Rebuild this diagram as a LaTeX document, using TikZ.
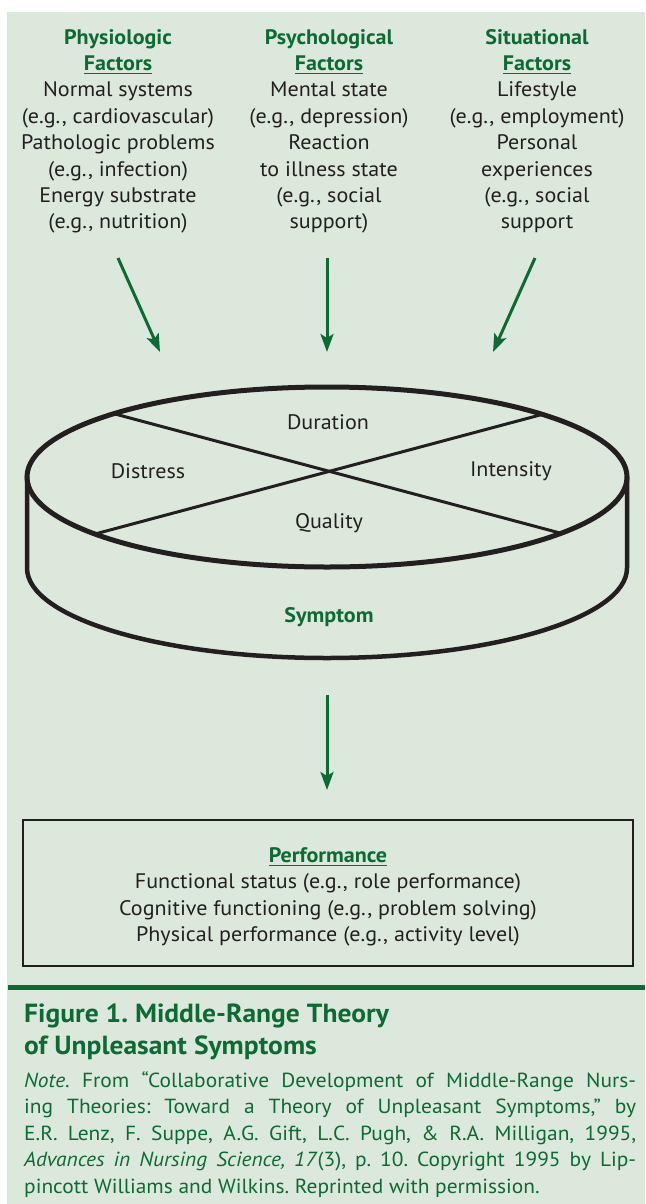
\documentclass[tikz,border=0pt]{standalone}
\usepackage{fontspec}
\setmainfont[FakeStretch=1.05]{PT Sans}
\usetikzlibrary{arrows.meta}
\definecolor{bg}{HTML}{DDE8DC}
\definecolor{dg}{HTML}{0B6B32}
\definecolor{ink}{HTML}{231F20}
\newcommand\myul[1]{\setbox0\hbox{#1}\rlap{\color{dg}\rule[-3.5pt]{\wd0}{1.4pt}}\box0}
\newcommand\hdr[1]{\textcolor{dg}{\bfseries #1}}
\frenchspacing
\begin{document}
\begin{tikzpicture}[x=1pt,y=-1pt,
  coltxt/.style={font=\fontsize{21}{26.4}\selectfont, text=ink, align=center, inner sep=0pt, anchor=north},
  lbl/.style={font=\fontsize{21}{24}\selectfont, text=ink, inner sep=0pt},
  garrow/.style={draw=dg, line width=3pt, -{Stealth[length=18pt,width=13pt,inset=4pt]}},
  inkline/.style={draw=ink, line cap=round},
]
\useasboundingbox (0,0) rectangle (645,1204);
\fill[bg] (7,12) rectangle (645,1204);

% factor columns
\node[coltxt] (physio) at (118,29) {\hdr{Physiologic}\\ \hdr{\myul{Factors}}\\ Normal systems\\ (e.g., cardiovascular)\\ Pathologic problems\\ (e.g., infection)\\ Energy substrate\\ (e.g., nutrition)};
\node[coltxt] (psych) at (329,29) {\hdr{Psychological}\\ \hdr{\myul{Factors}}\\ Mental state\\ (e.g., depression)\\ Reaction\\ to illness state\\ (e.g., social\\ support)};
\node[coltxt] (situ) at (537,29) {\hdr{Situational}\\ \hdr{\myul{Factors}}\\ Lifestyle\\ (e.g., employment)\\ Personal\\ experiences\\ (e.g., social\\ support};

% arrow coordinates
\coordinate (a1s) at (118,258); \coordinate (a1e) at (160,352);
\coordinate (a2s) at (327,258); \coordinate (a2e) at (327,352);
\coordinate (a3s) at (535,258); \coordinate (a3e) at (493,352);
\draw[garrow] (a1s) -- (a1e);
\draw[garrow] (a2s) -- (a2e);
\draw[garrow] (a3s) -- (a3e);

% symptom cylinder
\coordinate (cyl) at (327,477);
\coordinate (xa) at (115,414); \coordinate (xb) at (560,533);
\coordinate (xc) at (95,534); \coordinate (xd) at (540,415);
\draw[inkline, line width=3pt] (xa) -- (xb);
\draw[inkline, line width=3pt] (xc) -- (xd);
\draw[inkline, line width=5pt] (cyl) ellipse [x radius=300pt, y radius=90pt];
\draw[inkline, line width=4.5pt] (27,477) -- (27,568) arc[start angle=180, end angle=360, x radius=300pt, y radius=90pt] -- (627,477);

\node[lbl] (dur) at (328,422) {Duration};
\node[lbl] (dis) at (148,471) {Distress};
\node[lbl] (int) at (511,471) {Intensity};
\node[lbl] (qual) at (329,523) {Quality};
\node[lbl, font=\fontsize{21}{24}\selectfont\bfseries, text=dg] (symp) at (329,617) {Symptom};

% arrow to performance
\coordinate (a4s) at (327,695); \coordinate (a4e) at (327,790);
\draw[garrow] (a4s) -- (a4e);

% performance box
\node[draw=ink, line width=2pt, minimum width=610pt, minimum height=146pt, inner sep=0pt] (perf) at (328,893) {};
\node[inner sep=0pt, font=\fontsize{21}{26.4}\selectfont, text=ink, align=center] (perftxt) at (328,897)
  {\hdr{\myul{Performance}}\\ Functional status (e.g., role performance)\\ Cognitive functioning (e.g., problem solving)\\ Physical performance (e.g., activity level)};

% caption
\coordinate (rl) at (8,987); \coordinate (rr) at (645,987);
\draw[dg, line width=5pt] (rl) -- (rr);
\node[anchor=north west, inner sep=0pt, align=left, text=dg, font=\fontsize{26.2}{31.5}\selectfont\bfseries] (title) at (24,1004)
  {Figure 1. Middle-Range Theory\\ of Unpleasant Symptoms};
\node[anchor=north west, inner sep=0pt, text width=612pt, align=justify, text=dg, font=\fontsize{20.4}{26.5}\selectfont] (note) at (24,1071)
  {\hyphenpenalty=10000\tolerance=9999\emergencystretch=20pt\frenchspacing
  \textit{Note}. From “Collaborative Development of Middle-Range Nurs-\linebreak ing Theories: Toward a Theory of Unpleasant Symptoms,” by\linebreak E.R. Lenz, F. Suppe, A.G. Gift, L.C. Pugh, \& R.A. Milligan, 1995,\linebreak \textit{Advances in Nursing Science, 17}(3), p. 10. Copyright 1995 by Lip-\linebreak pincott Williams and Wilkins. Reprinted with permission.};
\end{tikzpicture}
\end{document}
